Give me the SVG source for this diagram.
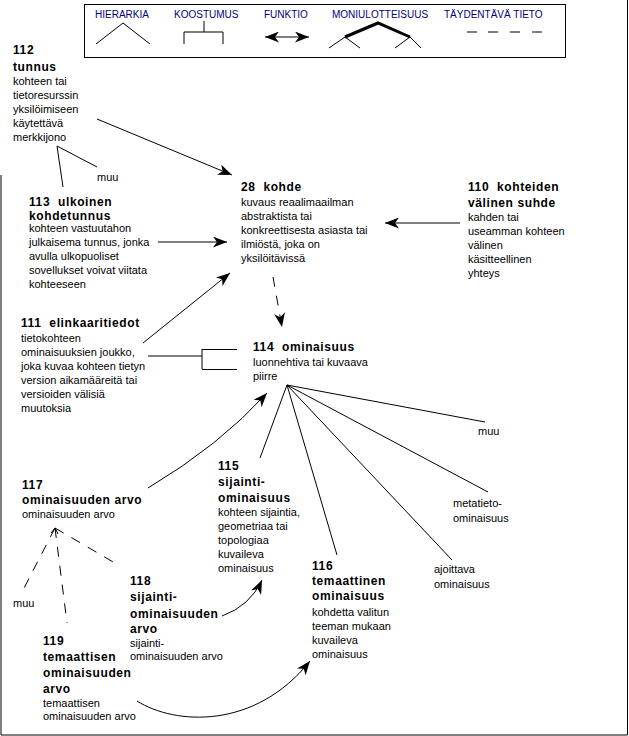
<svg xmlns="http://www.w3.org/2000/svg" width="629" height="736" viewBox="0 0 629 736">
<style>
text{font-family:"Liberation Sans",Arial,sans-serif;fill:#000;white-space:pre}
.t{font-size:12px;font-weight:bold;letter-spacing:0.6px}
.d{font-size:11px}
.lg{font-size:10px;fill:#000080}
.ln{stroke:#000;stroke-width:1;fill:none}
.dash{stroke-dasharray:10 9}
.arr{marker-end:url(#ah)}
</style>
<defs>
<marker id="ah" markerUnits="userSpaceOnUse" markerWidth="15" markerHeight="11" refX="14" refY="5.5" orient="auto">
<path d="M0,0 L14,5.5 L0,11 L4,5.5 z" fill="#000"/>
</marker>
<marker id="ah2" markerUnits="userSpaceOnUse" markerWidth="15" markerHeight="11" refX="14" refY="5.5" orient="auto-start-reverse">
<path d="M0,0 L14,5.5 L0,11 L4,5.5 z" fill="#000"/>
</marker>
</defs>
<rect width="629" height="736" fill="#fff"/>
<path class="ln" d="M1,175 V735 H627.5 V0"/>

<g id="legend">
<rect x="84.5" y="4.5" width="481" height="53" fill="#fff" stroke="#000"/>
<text class="lg" x="95" y="18">HIERARKIA</text>
<text class="lg" x="174" y="18">KOOSTUMUS</text>
<text class="lg" x="264" y="18">FUNKTIO</text>
<text class="lg" x="332" y="18">MONIULOTTEISUUS</text>
<text class="lg" x="444" y="18">TÄYDENTÄVÄ TIETO</text>
<path class="ln" d="M96,44 L123,23 L150,44"/>
<path class="ln" d="M204,21 V32 M184,44 V32 H223 V44"/>
<line class="ln" x1="265" y1="37" x2="309" y2="37" marker-start="url(#ah2)" marker-end="url(#ah2)"/>
<path d="M345,37 L378,23 L410,37" fill="none" stroke="#000" stroke-width="3"/>
<path class="ln" d="M345,37 L329,48 M345,37 L360,48 M410,37 L395,48 M410,37 L421,48"/>
<path class="ln" d="M467,32 H477 M488,32 H498 M510,32 H520 M532,32 H542"/>
</g>

<g id="connectors">
<line class="ln arr" x1="97" y1="119" x2="232" y2="175"/>
<path class="ln" d="M63,187 L57,146 L97,167"/>
<line class="ln arr" x1="158" y1="242" x2="227" y2="242"/>
<line class="ln arr" x1="460" y1="223" x2="385" y2="223"/>
<line class="ln arr" x1="143" y1="343" x2="230" y2="273"/>
<line class="ln dash arr" x1="273" y1="277" x2="282" y2="327"/>
<path class="ln" d="M148,356 H202 M202,349 V369 M202,349.5 H237 M202,369.5 H237"/>
<path class="ln" d="M287,385 L485,422 M287,385 L488,492 M287,385 L452,560 M287,385 L337,555 M287,385 L260,458"/>
<path class="ln arr" d="M148,488 Q220,445 267,393"/>
<path class="ln dash" d="M55,528 L22,592 M55,528 L67,623 M55,528 L120,566"/>
<path class="ln" d="M51,533 L55,528 L58,534"/>
<path class="ln arr" d="M222,616 Q250,606 262,580"/>
<path class="ln arr" d="M137,701 C175,725 255,730 310,661"/>
</g>

<g id="n112">
<text class="t" x="13" y="54">112</text>
<text class="t" x="13" y="71">tunnus</text>
<text class="d" x="13" y="85">kohteen tai</text>
<text class="d" x="13" y="99">tietoresurssin</text>
<text class="d" x="13" y="113">yksilöimiseen</text>
<text class="d" x="13" y="127">käytettävä</text>
<text class="d" x="13" y="141">merkkijono</text>
</g>
<g id="muu1"><text class="d" x="97" y="181">muu</text></g>

<g id="n113">
<text class="t" x="29" y="206">113  ulkoinen</text>
<text class="t" x="29" y="220">kohdetunnus</text>
<text class="d" x="29" y="232">kohteen vastuutahon</text>
<text class="d" x="29" y="246">julkaisema tunnus, jonka</text>
<text class="d" x="29" y="260">avulla ulkopuoliset</text>
<text class="d" x="29" y="274">sovellukset voivat viitata</text>
<text class="d" x="29" y="288">kohteeseen</text>
</g>

<g id="n28">
<text class="t" x="241" y="191">28  kohde</text>
<text class="d" x="241" y="206">kuvaus reaalimaailman</text>
<text class="d" x="241" y="220">abstraktista tai</text>
<text class="d" x="241" y="234">konkreettisesta asiasta tai</text>
<text class="d" x="241" y="248">ilmiöstä, joka on</text>
<text class="d" x="241" y="262">yksilöitävissä</text>
</g>

<g id="n110">
<text class="t" x="468" y="191">110  kohteiden</text>
<text class="t" x="468" y="207">välinen suhde</text>
<text class="d" x="468" y="221">kahden tai</text>
<text class="d" x="468" y="235">useamman kohteen</text>
<text class="d" x="468" y="249">välinen</text>
<text class="d" x="468" y="263">käsitteellinen</text>
<text class="d" x="468" y="277">yhteys</text>
</g>

<g id="n111">
<text class="t" x="21" y="327">111  elinkaaritiedot</text>
<text class="d" x="21" y="342">tietokohteen</text>
<text class="d" x="21" y="356">ominaisuuksien joukko,</text>
<text class="d" x="21" y="370">joka kuvaa kohteen tietyn</text>
<text class="d" x="21" y="384">version aikamääreitä tai</text>
<text class="d" x="21" y="398">versioiden välisiä</text>
<text class="d" x="21" y="412">muutoksia</text>
</g>

<g id="n114">
<text class="t" x="253" y="351">114  ominaisuus</text>
<text class="d" x="253" y="366">luonnehtiva tai kuvaava</text>
<text class="d" x="253" y="380">piirre</text>
</g>

<g id="muu2"><text class="d" x="478" y="435">muu</text></g>
<g id="metatieto">
<text class="d" x="453" y="507">metatieto-</text>
<text class="d" x="453" y="522">ominaisuus</text>
</g>
<g id="ajoittava">
<text class="d" x="434" y="573">ajoittava</text>
<text class="d" x="434" y="588">ominaisuus</text>
</g>

<g id="n117">
<text class="t" x="22" y="489">117</text>
<text class="t" x="22" y="504">ominaisuuden arvo</text>
<text class="d" x="22" y="518">ominaisuuden arvo</text>
</g>

<g id="n115">
<text class="t" x="218" y="470">115</text>
<text class="t" x="218" y="486">sijainti-</text>
<text class="t" x="218" y="502">ominaisuus</text>
<text class="d" x="218" y="516">kohteen sijaintia,</text>
<text class="d" x="218" y="530">geometriaa tai</text>
<text class="d" x="218" y="544">topologiaa</text>
<text class="d" x="218" y="558">kuvaileva</text>
<text class="d" x="218" y="572">ominaisuus</text>
</g>

<g id="n116">
<text class="t" x="312" y="570">116</text>
<text class="t" x="312" y="585">temaattinen</text>
<text class="t" x="312" y="600">ominaisuus</text>
<text class="d" x="312" y="616">kohdetta valitun</text>
<text class="d" x="312" y="630">teeman mukaan</text>
<text class="d" x="312" y="644">kuvaileva</text>
<text class="d" x="312" y="658">ominaisuus</text>
</g>

<g id="muu3"><text class="d" x="13" y="607">muu</text></g>

<g id="n118">
<text class="t" x="130" y="585">118</text>
<text class="t" x="130" y="601">sijainti-</text>
<text class="t" x="130" y="618">ominaisuuden</text>
<text class="t" x="130" y="633">arvo</text>
<text class="d" x="130" y="647">sijainti-</text>
<text class="d" x="130" y="660">ominaisuuden arvo</text>
</g>

<g id="n119">
<text class="t" x="43" y="645">119</text>
<text class="t" x="43" y="661">temaattisen</text>
<text class="t" x="43" y="677">ominaisuuden</text>
<text class="t" x="43" y="693">arvo</text>
<text class="d" x="43" y="707">temaattisen</text>
<text class="d" x="43" y="720">ominaisuuden arvo</text>
</g>
</svg>
